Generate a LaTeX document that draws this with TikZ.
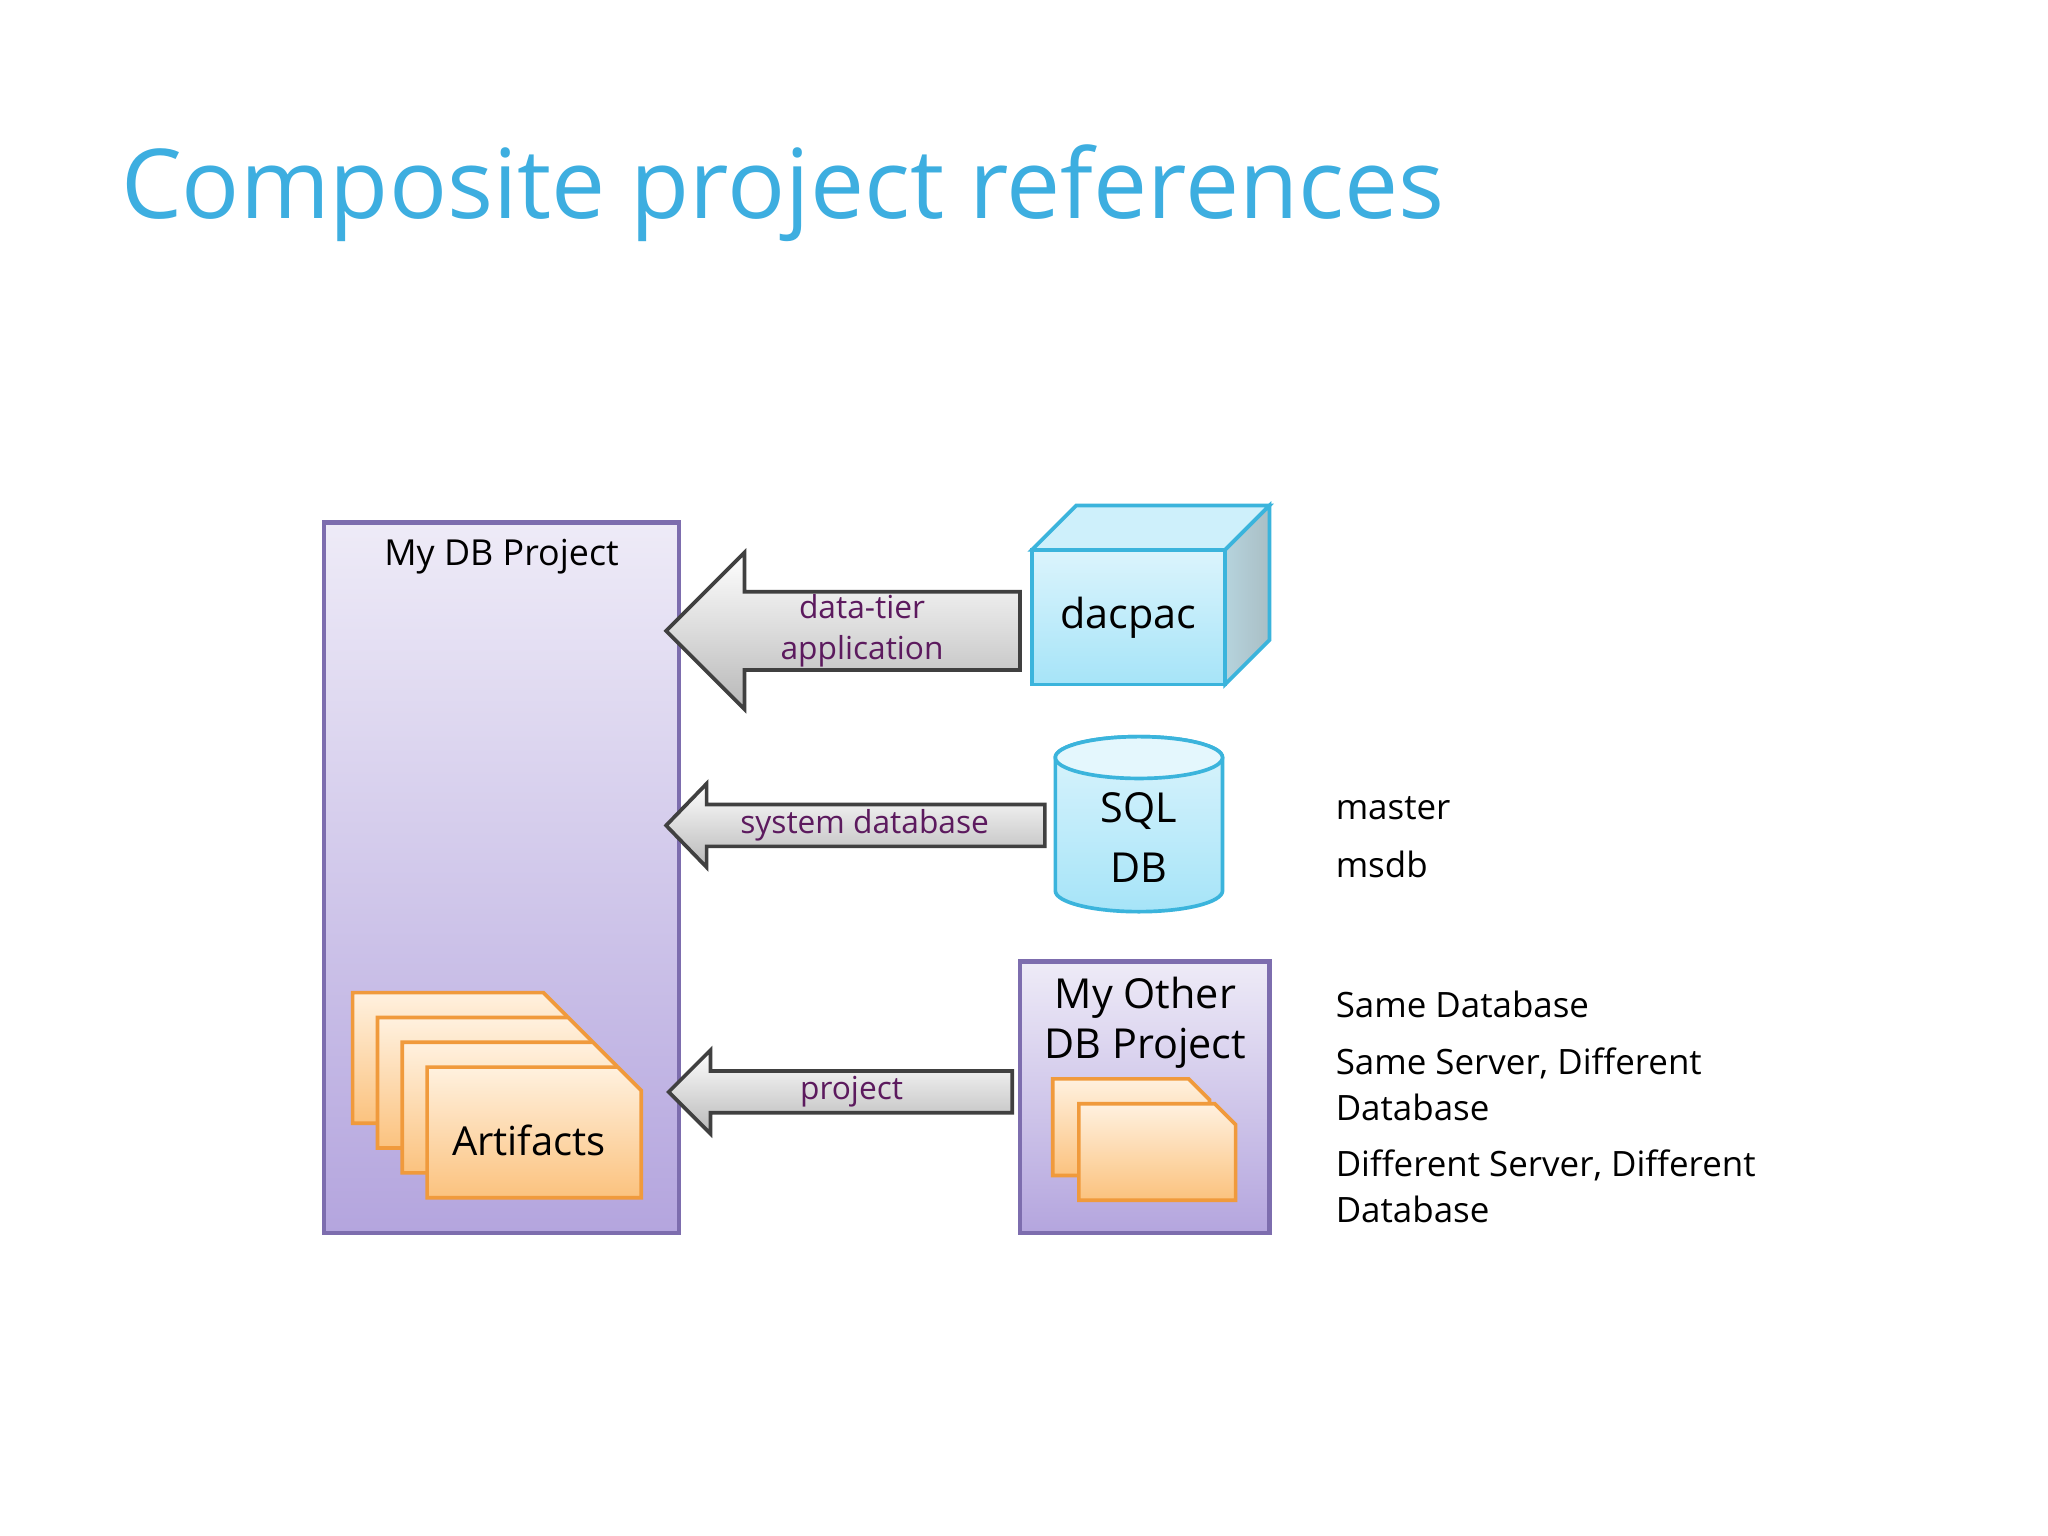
\documentclass[tikz,border=0pt]{standalone}
\usepackage{fontspec}
\setmainfont{Open Sans}
\usetikzlibrary{shapes.geometric}
\definecolor{titleblue}{HTML}{3DAEE0}
\definecolor{boxtop}{HTML}{EEEBF7}
\definecolor{boxbot}{HTML}{B4A5DE}
\definecolor{boxline}{HTML}{7D6DAE}
\definecolor{cyanfill}{HTML}{A6E4F8}
\definecolor{cyanline}{HTML}{3BB4DC}
\definecolor{docline}{HTML}{F09A3C}
\definecolor{doctop}{HTML}{FFF1DF}
\definecolor{docbot}{HTML}{FBC27E}
\definecolor{lblpurple}{HTML}{5C1A5E}
\tikzset{
  box/.style={draw=boxline, line width=1pt, top color=boxtop, bottom color=boxbot},
  garrow/.style={draw=black!75, line width=0.8pt, top color=white, bottom color=black!28},
  doc/.style={draw=docline, line width=0.8pt, top color=doctop, bottom color=docbot},
  lbl/.style={text=lblpurple, font=\fontsize{6.9}{8.9}\selectfont, align=center},
  txt/.style={font=\fontsize{7.6}{10}\selectfont, anchor=west, inner sep=0},
}
% document with folded corner
\newcommand{\docshape}[2]{%
  \draw[doc] (#1,#2) -- ++(146,0) -- ++(18,18) -- ++(0,82) -- ++(-164,0) -- cycle;}
\newcommand{\docsmall}[2]{%
  \draw[doc] (#1,#2) -- ++(104,0) -- ++(16,16) -- ++(0,58) -- ++(-120,0) -- cycle;}
\begin{document}
\begin{tikzpicture}[x=0.01cm, y=-0.01cm]
\useasboundingbox (0,0) rectangle (1568,1176);
\fill[white] (0,0) rectangle (1568,1176);

\node[anchor=west, text=titleblue, font=\fontsize{21}{24}\selectfont, inner sep=0] (title) at (92,148) {Composite project references};

% main project box
\draw[box] (248,400) rectangle (520,944);
\node[font=\fontsize{7.8}{9.5}\selectfont] (mydb) at (384,426) {My DB Project};
\docshape{270}{760}
\docshape{289}{779}
\docshape{308}{798}
\docshape{327}{817}
\node[font=\fontsize{8.7}{11}\selectfont] (art) at (405,873) {Artifacts};

% arrow 1
\draw[garrow] (510,483) -- (570,423) -- (570,453) -- (781,453) -- (781,513) -- (570,513) -- (570,543) -- cycle;
\node[lbl] (dta) at (660,483) {data-tier\\application};

% dacpac cube
\draw[draw=cyanline, line width=0.8pt, fill=cyanfill!55] (790,421) -- (824,387) -- (972,387) -- (938,421) -- cycle;
\draw[draw=cyanline, line width=0.8pt, left color=cyanfill!80!black!60, right color=cyanfill!60!black!55] (938,421) -- (972,387) -- (972,490) -- (938,524) -- cycle;
\draw[draw=cyanline, line width=0.8pt, top color=cyanfill!40, bottom color=cyanfill] (790,421) rectangle (938,524);
\node[font=\fontsize{9}{11}\selectfont] (dacpac) at (864,473) {dacpac};

% arrow 2
\draw[garrow] (510,632) -- (541,600) -- (541,616) -- (800,616) -- (800,648) -- (541,648) -- (541,664) -- cycle;
\node[lbl] (sysdb) at (662,632) {system database};

% cylinder
\draw[draw=cyanline, line width=0.8pt, top color=cyanfill!40, bottom color=cyanfill] (808,580) -- (808,682) arc[start angle=180, end angle=0, x radius=64, y radius=16] -- (936,580) arc[start angle=0, end angle=-180, x radius=64, y radius=16];
\draw[draw=cyanline, line width=0.8pt, fill=cyanfill!30] (872,580) ellipse[x radius=64, y radius=16];
\node[font=\fontsize{9}{11}\selectfont, align=center] (sql) at (872,641) {SQL\\[2pt]DB};

\node[txt] (master) at (1022,619) {master};
\node[txt] (msdb) at (1022,662) {msdb};

% arrow 3
\draw[garrow] (512,836) -- (544,804) -- (544,820) -- (775,820) -- (775,852) -- (544,852) -- (544,868) -- cycle;
\node[lbl] (proj) at (652,836) {project};

% other project
\draw[box] (781,736) rectangle (972,944);
\node[font=\fontsize{9}{11}\selectfont, align=center] (other) at (877,783) {My Other\\[0pt]DB Project};
\docsmall{806}{826}
\docsmall{826}{845}

\node[txt] (t1) at (1022,769) {Same Database};
\node[txt, align=left] (t2) at (1022,830) {Same Server, Different\\Database};
\node[txt, align=left] (t3) at (1022,908) {Different Server, Different\\Database};
\end{tikzpicture}
\end{document}
